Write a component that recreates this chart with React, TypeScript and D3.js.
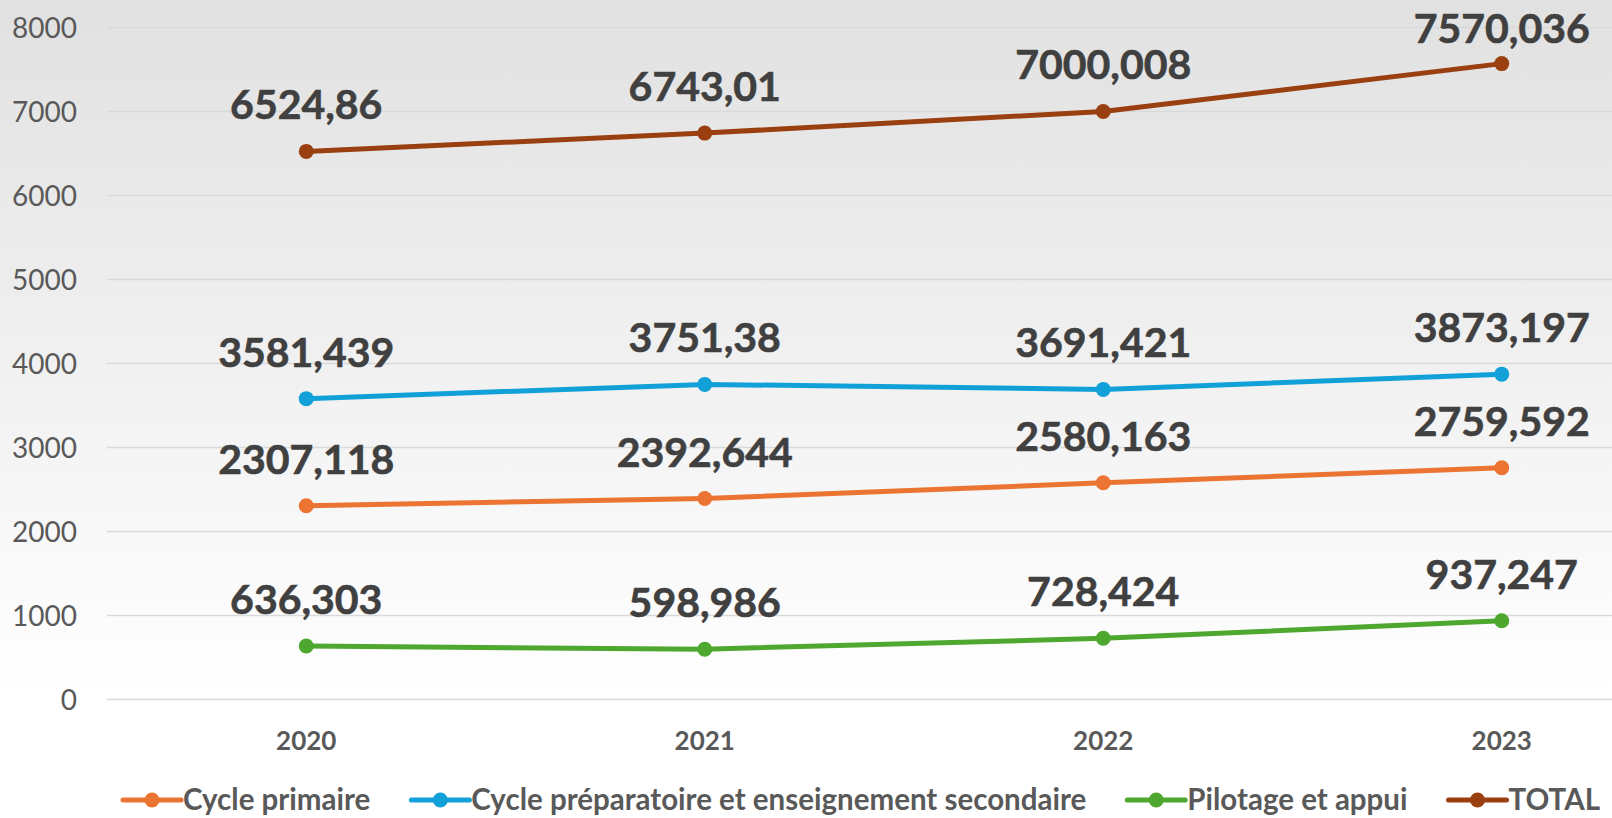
import React, { useEffect, useRef } from "react";
import * as d3 from "d3";

const years = ["2020", "2021", "2022", "2023"];
const cyclePrimaire = [2307.118, 2392.644, 2580.163, 2759.592];
const cycleSecondaire = [3581.439, 3751.38, 3691.421, 3873.197];
const pilotage = [636.303, 598.986, 728.424, 937.247];
const total = [6524.86, 6743.01, 7000.008, 7570.036];
const labelsPrimaire = ["2307,118", "2392,644", "2580,163", "2759,592"];
const labelsSecondaire = ["3581,439", "3751,38", "3691,421", "3873,197"];
const labelsPilotage = ["636,303", "598,986", "728,424", "937,247"];
const labelsTotal = ["6524,86", "6743,01", "7000,008", "7570,036"];
const seriesNames = [
  "Cycle primaire",
  "Cycle préparatoire et enseignement secondaire",
  "Pilotage et appui",
  "TOTAL",
];
const yTicks = [0, 1000, 2000, 3000, 4000, 5000, 6000, 7000, 8000];

const colors = ["#EB7432", "#12A0D8", "#4EA72E", "#9A3F10"];

export default function App() {
  const ref = useRef<SVGSVGElement>(null);

  useEffect(() => {
    const W = 1612, H = 818;
    const svg = d3.select(ref.current);
    svg.selectAll("*").remove();

    const defs = svg.append("defs");
    const grad = defs.append("linearGradient").attr("id", "bg").attr("x1", 0).attr("y1", 0).attr("x2", 0).attr("y2", 1);
    grad.append("stop").attr("offset", "0%").attr("stop-color", "#e1e1e1");
    grad.append("stop").attr("offset", "85%").attr("stop-color", "#ffffff");
    grad.append("stop").attr("offset", "100%").attr("stop-color", "#ffffff");
    svg.append("rect").attr("width", W).attr("height", H).attr("fill", "url(#bg)");

    const x = d3.scalePoint<string>().domain(years).range([107, 1701]).padding(0.5);
    const y = d3.scaleLinear().domain([0, 8000]).range([699.5, 27.5]);

    // gridlines
    svg.append("g").selectAll("line").data(yTicks).join("line")
      .attr("x1", 107).attr("x2", W)
      .attr("y1", (d) => y(d)).attr("y2", (d) => y(d))
      .attr("stroke", "#d9d9d9").attr("stroke-width", 1.5);

    // y labels
    svg.append("g").selectAll("text").data(yTicks).join("text")
      .attr("x", 77).attr("y", (d) => y(d) + 10)
      .attr("text-anchor", "end")
      .attr("font-family", "Lato, 'Open Sans', sans-serif")
      .attr("font-size", 28)
      .attr("fill", "#595959")
      .text((d) => String(d));

    // x labels
    svg.append("g").selectAll("text").data(years).join("text")
      .attr("x", (d) => x(d)!).attr("y", 750)
      .attr("text-anchor", "middle")
      .attr("font-family", "Lato, 'Open Sans', sans-serif")
      .attr("font-weight", 700)
      .attr("font-size", 26)
      .attr("fill", "#595959")
      .text((d) => d);

    const series = [
      { values: cyclePrimaire, labels: labelsPrimaire },
      { values: cycleSecondaire, labels: labelsSecondaire },
      { values: pilotage, labels: labelsPilotage },
      { values: total, labels: labelsTotal },
    ];

    const line = d3.line<number>().x((_, i) => x(years[i])!).y((d) => y(d));

    series.forEach((s, si) => {
      const g = svg.append("g");
      g.append("path").attr("d", line(s.values)!).attr("fill", "none")
        .attr("stroke", colors[si]).attr("stroke-width", 5).attr("stroke-linejoin", "round").attr("stroke-linecap", "round");
      g.selectAll("circle").data(s.values).join("circle")
        .attr("cx", (_, i) => x(years[i])!).attr("cy", (d) => y(d)).attr("r", 7.5)
        .attr("fill", colors[si]);
      g.selectAll("text").data(s.values).join("text")
        .attr("x", (_, i) => x(years[i])!)
        .attr("y", (d) => Math.max(y(d) - 32, 43))
        .attr("text-anchor", "middle")
        .attr("font-family", "Lato, 'Open Sans', sans-serif")
        .attr("font-weight", 700)
        .attr("font-size", 41)
        .attr("fill", "#404040")
        .attr("stroke", "#404040")
        .attr("stroke-width", 0.6)
        .text((_, i) => s.labels[i]);
    });

    // legend
    const lg = svg.append("g");
    let cx = 123;
    const ly = 800;
    seriesNames.forEach((name, i) => {
      lg.append("line").attr("x1", cx).attr("x2", cx + 58).attr("y1", ly).attr("y2", ly)
        .attr("stroke", colors[i]).attr("stroke-width", 5).attr("stroke-linecap", "round");
      lg.append("circle").attr("cx", cx + 29).attr("cy", ly).attr("r", 7.5).attr("fill", colors[i]);
      const t = lg.append("text").attr("x", cx + 60).attr("y", 810)
        .attr("font-family", "Lato, 'Open Sans', sans-serif")
        .attr("font-weight", 700)
        .attr("font-size", 29.5)
        .attr("fill", "#595959")
        .text(name);
      const w = (t.node() as SVGTextElement).getComputedTextLength();
      cx = cx + 60 + w + 41;
    });
  }, []);

  return (
    <svg ref={ref} width={1612} height={818}
      style={{ position: "fixed", left: 0, top: 0, display: "block" }} />
  );
}
